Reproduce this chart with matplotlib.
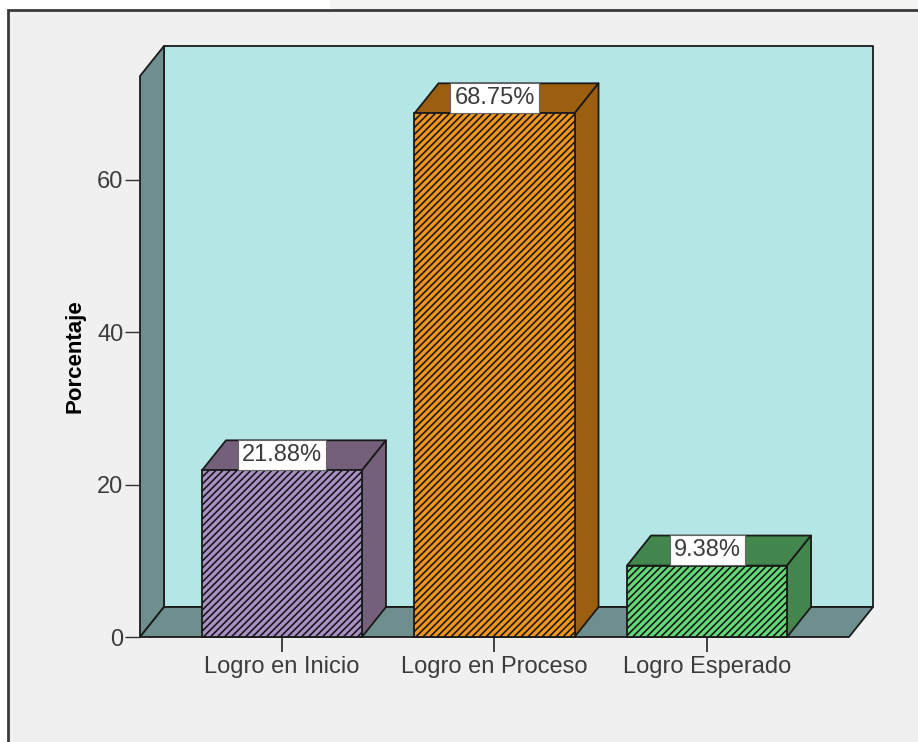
import matplotlib
matplotlib.use("Agg")
import matplotlib.pyplot as plt
from matplotlib.patches import Polygon, Rectangle

categories = ["Logro en Inicio", "Logro en Proceso", "Logro Esperado"]
values = [21.88, 68.75, 9.38]
labels = ["21.88%", "68.75%", "9.38%"]
face_colors = ["#A890C4", "#F0961C", "#64D878"]
side_colors = ["#75607C", "#9C5F10", "#43874F"]
y_ticks = [0, 20, 40, 60]

W, H = 918, 742
plt.rcParams["font.family"] = ["Liberation Sans", "DejaVu Sans"]

fig = plt.figure(figsize=(W / 100, H / 100), dpi=100, facecolor="white")

# fondo gris con el marco
bg = fig.add_axes([0, 0, 1, 1])
bg.set_xlim(0, W)
bg.set_ylim(H, 0)
bg.axis("off")
bg.add_patch(Rectangle((330, 0), W, 11, fc="#F3F4F2", ec="none"))
bg.add_patch(Rectangle((7.5, 9.5), W, H, fc="#F0F0F0", ec="#3A3A3A", lw=2))

# plano frontal en pixeles: x 140-849, y 76-637
ax = fig.add_axes([140 / W, 1 - 637 / H, 709 / W, 561 / H])
ax.patch.set_alpha(0)
ax.set_xlim(-0.668, 2.668)
ax.set_ylim(0, 73.65)

px_x = 212.5  # pixeles por categoria
px_y = 7.617  # pixeles por unidad
dx = 24 / px_x
dy = 30 / px_y
x0, x1 = ax.get_xlim()
y0, y1 = ax.get_ylim()
wall = "#6F8F8F"
line = "#1A1A1A"
text_color = "#3C3C3C"


def poly(pts, color, z=1):
    ax.add_patch(Polygon(pts, closed=True, fc=color, ec=line, lw=1.3,
                         clip_on=False, zorder=z, joinstyle="round"))


def diagonal_hatch(rect, l, r, top, step=7):
    # rayas cada 7 px, el hatch de matplotlib no da esta separacion
    width = (r - l) * px_x
    height = top * px_y
    off = -height
    while off < width:
        stripe, = ax.plot([l + off / px_x, l + (off + height) / px_x], [0, top], color="#141414",
                          lw=1.15, zorder=4.5, solid_capstyle="butt")
        stripe.set_clip_path(rect)
        off += step


# paredes
poly([(x0 + dx, y0 + dy), (x1 + dx, y0 + dy), (x1 + dx, y1 + dy), (x0 + dx, y1 + dy)], "#B4E6E6")
poly([(x0, y0), (x0 + dx, y0 + dy), (x0 + dx, y1 + dy), (x0, y1)], wall)
poly([(x0, y0), (x1, y0), (x1 + dx, y0 + dy), (x0 + dx, y0 + dy)], wall)

# barras
w = 160 / px_x
for i, v in enumerate(values):
    l, r = i - w / 2, i + w / 2
    poly([(l, v), (r, v), (r + dx, v + dy), (l + dx, v + dy)], side_colors[i], 3)
    poly([(r, 0), (r + dx, dy), (r + dx, v + dy), (r, v)], side_colors[i], 3)
    rect = Rectangle((l, 0), w, v, fc=face_colors[i], ec="none", clip_on=False, zorder=4)
    ax.add_patch(rect)
    diagonal_hatch(rect, l, r, v)
    ax.add_patch(Rectangle((l, 0), w, v, fc="none", ec=line, lw=1.3, clip_on=False, zorder=4.6))
    ax.text(i, v + 0.6, labels[i], ha="center", va="bottom", fontsize=17, color=text_color, zorder=5,
            bbox=dict(boxstyle="square,pad=0.17", fc="white", ec="#666666", lw=0.8))

ax.set_xlim(x0, x1)
ax.set_ylim(y0, y1)
for s in ax.spines.values():
    s.set_visible(False)
ax.set_xticks(range(len(categories)))
ax.set_xticklabels(categories, fontsize=17, color=text_color)
ax.set_yticks(y_ticks)
ax.set_yticklabels([str(t) for t in y_ticks], fontsize=17, color=text_color)
ax.tick_params(axis="x", length=11, width=1.3, color="#333333", pad=3)
ax.tick_params(axis="y", length=11, width=1.0, color="#333333", pad=1)
ax.set_ylabel("Porcentaje", fontsize=16, fontweight="bold", color="black", labelpad=8, y=0.5)

fig.savefig("out.png", dpi=100)
